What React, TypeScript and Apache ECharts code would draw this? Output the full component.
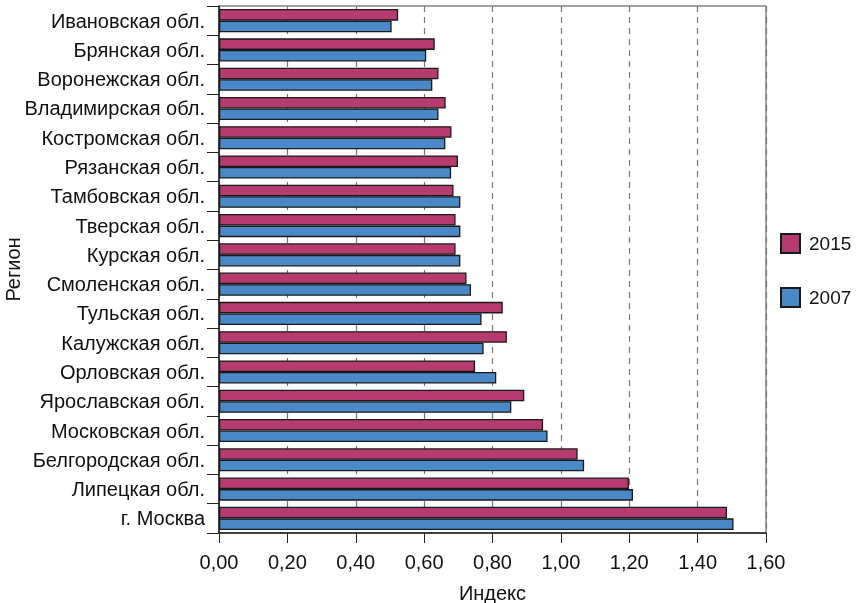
import React, { useEffect, useRef } from "react";
import * as echarts from "echarts";

const regions = [
  "Ивановская обл.",
  "Брянская обл.",
  "Воронежская обл.",
  "Владимирская обл.",
  "Костромская обл.",
  "Рязанская обл.",
  "Тамбовская обл.",
  "Тверская обл.",
  "Курская обл.",
  "Смоленская обл.",
  "Тульская обл.",
  "Калужская обл.",
  "Орловская обл.",
  "Ярославская обл.",
  "Московская обл.",
  "Белгородская обл.",
  "Липецкая обл.",
  "г. Москва",
];

const values2015 = [
  0.524, 0.631, 0.642, 0.663, 0.68, 0.699, 0.686, 0.692, 0.692, 0.724, 0.83,
  0.842, 0.749, 0.893, 0.948, 1.049, 1.199, 1.486,
];

const values2007 = [
  0.505, 0.606, 0.624, 0.642, 0.662, 0.679, 0.706, 0.706, 0.706, 0.737, 0.768,
  0.774, 0.811, 0.855, 0.961, 1.068, 1.211, 1.505,
];

const FONT = "Liberation Sans, Arial, sans-serif";
const FS = 20;

export default function App() {
  const ref = useRef<HTMLDivElement>(null);
  useEffect(() => {
    if (!ref.current) return;
    const chart = echarts.init(ref.current, undefined, { renderer: "svg" });
    chart.setOption({
      animation: false,
      textStyle: { fontFamily: FONT },
      grid: {
        left: 219,
        top: 6,
        right: 91,
        bottom: 70,
        containLabel: false,
        outerBoundsMode: "none",
        show: true,
        borderColor: "#444",
        borderWidth: 1,
        backgroundColor: "transparent",
      },
      legend: {
        orient: "vertical",
        left: 775,
        top: 228,
        itemWidth: 19,
        itemHeight: 19,
        itemGap: 33,
        icon: "rect",
        textStyle: {
          fontSize: 19,
          color: "#111",
          fontFamily: FONT,
          padding: [0, 0, 0, 4],
        },
        data: ["2015", "2007"],
      },
      xAxis: {
        type: "value",
        min: 0,
        max: 1.6,
        interval: 0.2,
        name: "Индекс",
        nameLocation: "middle",
        nameGap: 50,
        nameMoveOverlap: false,
        nameTextStyle: { fontSize: FS, color: "#111", fontFamily: FONT },
        axisLine: { show: true, lineStyle: { color: "#222", width: 1.5 } },
        axisTick: { show: true, length: 10, lineStyle: { color: "#222" } },
        axisLabel: {
          fontSize: FS,
          color: "#111",
          margin: 19,
          fontFamily: FONT,
          formatter: (v: number) => v.toFixed(2).replace(".", ","),
        },
        splitLine: {
          show: true,
          lineStyle: { color: "#777", type: [6, 5], width: 1.2 },
        },
      },
      yAxis: {
        type: "category",
        inverse: true,
        data: regions,
        name: "Регион",
        nameLocation: "middle",
        nameGap: 196,
        nameMoveOverlap: false,
        nameRotate: 90,
        nameTextStyle: { fontSize: FS, color: "#111", fontFamily: FONT },
        axisLine: { show: true, lineStyle: { color: "#222", width: 1.5 } },
        axisTick: { show: true, length: 12, lineStyle: { color: "#222" } },
        axisLabel: { fontSize: FS, color: "#111", margin: 14, fontFamily: FONT },
        splitLine: { show: false },
      },
      series: [
        {
          name: "2015",
          type: "bar",
          data: values2015,
          barGap: "0%",
          barCategoryGap: "21%",
          itemStyle: { color: "#B63B71", borderColor: "#1a1a1a", borderWidth: 1.3 },
        },
        {
          name: "2007",
          type: "bar",
          data: values2007,
          barGap: "0%",
          barCategoryGap: "21%",
          itemStyle: { color: "#4A88C8", borderColor: "#1a1a1a", borderWidth: 1.3 },
        },
      ],
    });
    return () => chart.dispose();
  }, []);
  return (
    <div
      ref={ref}
      style={{ position: "fixed", left: 0, top: 0, width: 857, height: 603 }}
    />
  );
}
